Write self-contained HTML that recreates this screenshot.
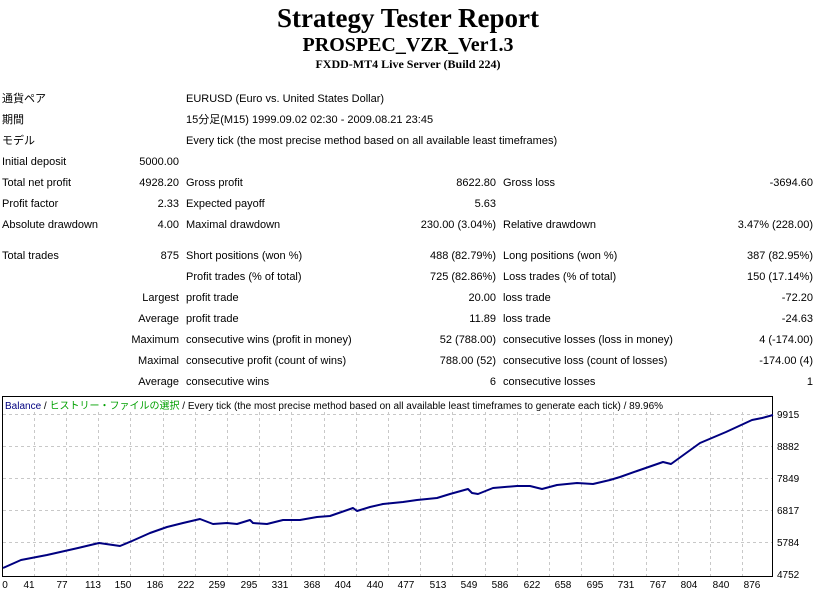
<!DOCTYPE html>
<html><head><meta charset="utf-8"><style>
body{margin:0;width:816px;height:589px;background:#fff;position:relative;overflow:hidden;font-family:"Liberation Sans","Noto Sans CJK JP",sans-serif;font-size:11px;color:#000}
.t{position:absolute;white-space:nowrap;line-height:14px}
.r{text-align:right}
.h{position:absolute;left:0;width:816px;text-align:center;font-family:"Liberation Serif",serif;font-weight:bold;white-space:nowrap}
</style></head><body>
<div class="h" style="top:3px;font-size:27px;line-height:30px">Strategy Tester Report</div>
<div class="h" style="top:34px;font-size:20px;line-height:22px">PROSPEC_VZR_Ver1.3</div>
<div class="h" style="top:57px;font-size:12px;line-height:15px">FXDD-MT4 Live Server (Build 224)</div>

<div class="t" style="left:2px;top:92px">通貨ペア</div>
<div class="t" style="left:186px;top:92px">EURUSD (Euro vs. United States Dollar)</div>
<div class="t" style="left:2px;top:113px">期間</div>
<div class="t" style="left:186px;top:113px">15分足(M15) 1999.09.02 02:30 - 2009.08.21 23:45</div>
<div class="t" style="left:2px;top:134px">モデル</div>
<div class="t" style="left:186px;top:134px">Every tick (the most precise method based on all available least timeframes)</div>

<div class="t" style="left:2px;top:155px">Initial deposit</div>
<div class="t r" style="right:637px;top:155px">5000.00</div>

<div class="t" style="left:2px;top:176px">Total net profit</div>
<div class="t r" style="right:637px;top:176px">4928.20</div>
<div class="t" style="left:186px;top:176px">Gross profit</div>
<div class="t r" style="right:320px;top:176px">8622.80</div>
<div class="t" style="left:503px;top:176px">Gross loss</div>
<div class="t r" style="right:3px;top:176px">-3694.60</div>

<div class="t" style="left:2px;top:197px">Profit factor</div>
<div class="t r" style="right:637px;top:197px">2.33</div>
<div class="t" style="left:186px;top:197px">Expected payoff</div>
<div class="t r" style="right:320px;top:197px">5.63</div>

<div class="t" style="left:2px;top:218px">Absolute drawdown</div>
<div class="t r" style="right:637px;top:218px">4.00</div>
<div class="t" style="left:186px;top:218px">Maximal drawdown</div>
<div class="t r" style="right:320px;top:218px">230.00 (3.04%)</div>
<div class="t" style="left:503px;top:218px">Relative drawdown</div>
<div class="t r" style="right:3px;top:218px">3.47% (228.00)</div>

<div class="t" style="left:2px;top:249px">Total trades</div>
<div class="t r" style="right:637px;top:249px">875</div>
<div class="t" style="left:186px;top:249px">Short positions (won %)</div>
<div class="t r" style="right:320px;top:249px">488 (82.79%)</div>
<div class="t" style="left:503px;top:249px">Long positions (won %)</div>
<div class="t r" style="right:3px;top:249px">387 (82.95%)</div>

<div class="t" style="left:186px;top:270px">Profit trades (% of total)</div>
<div class="t r" style="right:320px;top:270px">725 (82.86%)</div>
<div class="t" style="left:503px;top:270px">Loss trades (% of total)</div>
<div class="t r" style="right:3px;top:270px">150 (17.14%)</div>

<div class="t r" style="right:637px;top:291px">Largest</div>
<div class="t" style="left:186px;top:291px">profit trade</div>
<div class="t r" style="right:320px;top:291px">20.00</div>
<div class="t" style="left:503px;top:291px">loss trade</div>
<div class="t r" style="right:3px;top:291px">-72.20</div>

<div class="t r" style="right:637px;top:312px">Average</div>
<div class="t" style="left:186px;top:312px">profit trade</div>
<div class="t r" style="right:320px;top:312px">11.89</div>
<div class="t" style="left:503px;top:312px">loss trade</div>
<div class="t r" style="right:3px;top:312px">-24.63</div>

<div class="t r" style="right:637px;top:333px">Maximum</div>
<div class="t" style="left:186px;top:333px">consecutive wins (profit in money)</div>
<div class="t r" style="right:320px;top:333px">52 (788.00)</div>
<div class="t" style="left:503px;top:333px">consecutive losses (loss in money)</div>
<div class="t r" style="right:3px;top:333px">4 (-174.00)</div>

<div class="t r" style="right:637px;top:354px">Maximal</div>
<div class="t" style="left:186px;top:354px">consecutive profit (count of wins)</div>
<div class="t r" style="right:320px;top:354px">788.00 (52)</div>
<div class="t" style="left:503px;top:354px">consecutive loss (count of losses)</div>
<div class="t r" style="right:3px;top:354px">-174.00 (4)</div>

<div class="t r" style="right:637px;top:375px">Average</div>
<div class="t" style="left:186px;top:375px">consecutive wins</div>
<div class="t r" style="right:320px;top:375px">6</div>
<div class="t" style="left:503px;top:375px">consecutive losses</div>
<div class="t r" style="right:3px;top:375px">1</div>

<svg style="position:absolute;left:0;top:0" width="816" height="589" font-family="Liberation Sans, Noto Sans CJK JP, sans-serif" font-size="10">
<rect x="2.5" y="396.5" width="770" height="180" fill="#fff" stroke="#000"/>
<g stroke="#c8c8c8" stroke-dasharray="3,3">
<line x1="3" x2="772" y1="414.5" y2="414.5"/><line x1="3" x2="772" y1="446.5" y2="446.5"/><line x1="3" x2="772" y1="478.5" y2="478.5"/><line x1="3" x2="772" y1="510.5" y2="510.5"/><line x1="3" x2="772" y1="542.5" y2="542.5"/>
<line x1="34.5" x2="34.5" y1="412" y2="576"/><line x1="66.5" x2="66.5" y1="412" y2="576"/><line x1="98.5" x2="98.5" y1="412" y2="576"/><line x1="130.5" x2="130.5" y1="412" y2="576"/><line x1="163.5" x2="163.5" y1="412" y2="576"/><line x1="195.5" x2="195.5" y1="412" y2="576"/><line x1="227.5" x2="227.5" y1="412" y2="576"/><line x1="259.5" x2="259.5" y1="412" y2="576"/><line x1="291.5" x2="291.5" y1="412" y2="576"/><line x1="324.5" x2="324.5" y1="412" y2="576"/><line x1="356.5" x2="356.5" y1="412" y2="576"/><line x1="388.5" x2="388.5" y1="412" y2="576"/><line x1="420.5" x2="420.5" y1="412" y2="576"/><line x1="452.5" x2="452.5" y1="412" y2="576"/><line x1="485.5" x2="485.5" y1="412" y2="576"/><line x1="517.5" x2="517.5" y1="412" y2="576"/><line x1="549.5" x2="549.5" y1="412" y2="576"/><line x1="581.5" x2="581.5" y1="412" y2="576"/><line x1="613.5" x2="613.5" y1="412" y2="576"/><line x1="646.5" x2="646.5" y1="412" y2="576"/><line x1="678.5" x2="678.5" y1="412" y2="576"/><line x1="710.5" x2="710.5" y1="412" y2="576"/><line x1="742.5" x2="742.5" y1="412" y2="576"/>
</g>
<polyline fill="none" stroke="#000080" stroke-width="2" stroke-linejoin="round" points="3,568 21,560 47,555 78,548 99,543 120,546 132,541 150,533 167,527 183,523 200,519 213,524 227,523 237,524 250,520 253,523 267,524 283,520 300,520 317,517 330,516 353,508 357,511 370,507 383,504 403,502 417,500 437,498 450,494 468,489 472,493 478,494 493,488 517,486 530,486 542,489 557,485 577,483 593,484 610,480 620,477 637,471 663,462 671,464 700,443 726,432 752,420 762,418 773,415"/>
<g font-size="10">
<text x="5" y="409"><tspan fill="#000080">Balance</tspan> / <tspan fill="#00a000">ヒストリー・ファイルの選択</tspan> / Every tick (the most precise method based on all available least timeframes to generate each tick) / 89.96%</text>
<text x="777" y="418">9915</text><text x="777" y="450">8882</text><text x="777" y="482">7849</text><text x="777" y="514">6817</text><text x="777" y="546">5784</text><text x="777" y="578">4752</text>
<g text-anchor="middle">
<text x="5" y="588">0</text><text x="29" y="588">41</text><text x="62" y="588">77</text><text x="93" y="588">113</text><text x="123" y="588">150</text><text x="155" y="588">186</text><text x="186" y="588">222</text><text x="217" y="588">259</text><text x="249" y="588">295</text><text x="280" y="588">331</text><text x="312" y="588">368</text><text x="343" y="588">404</text><text x="375" y="588">440</text><text x="406" y="588">477</text><text x="438" y="588">513</text><text x="469" y="588">549</text><text x="500" y="588">586</text><text x="532" y="588">622</text><text x="563" y="588">658</text><text x="595" y="588">695</text><text x="626" y="588">731</text><text x="658" y="588">767</text><text x="689" y="588">804</text><text x="721" y="588">840</text><text x="752" y="588">876</text>
</g></g>
</svg>
</body></html>
